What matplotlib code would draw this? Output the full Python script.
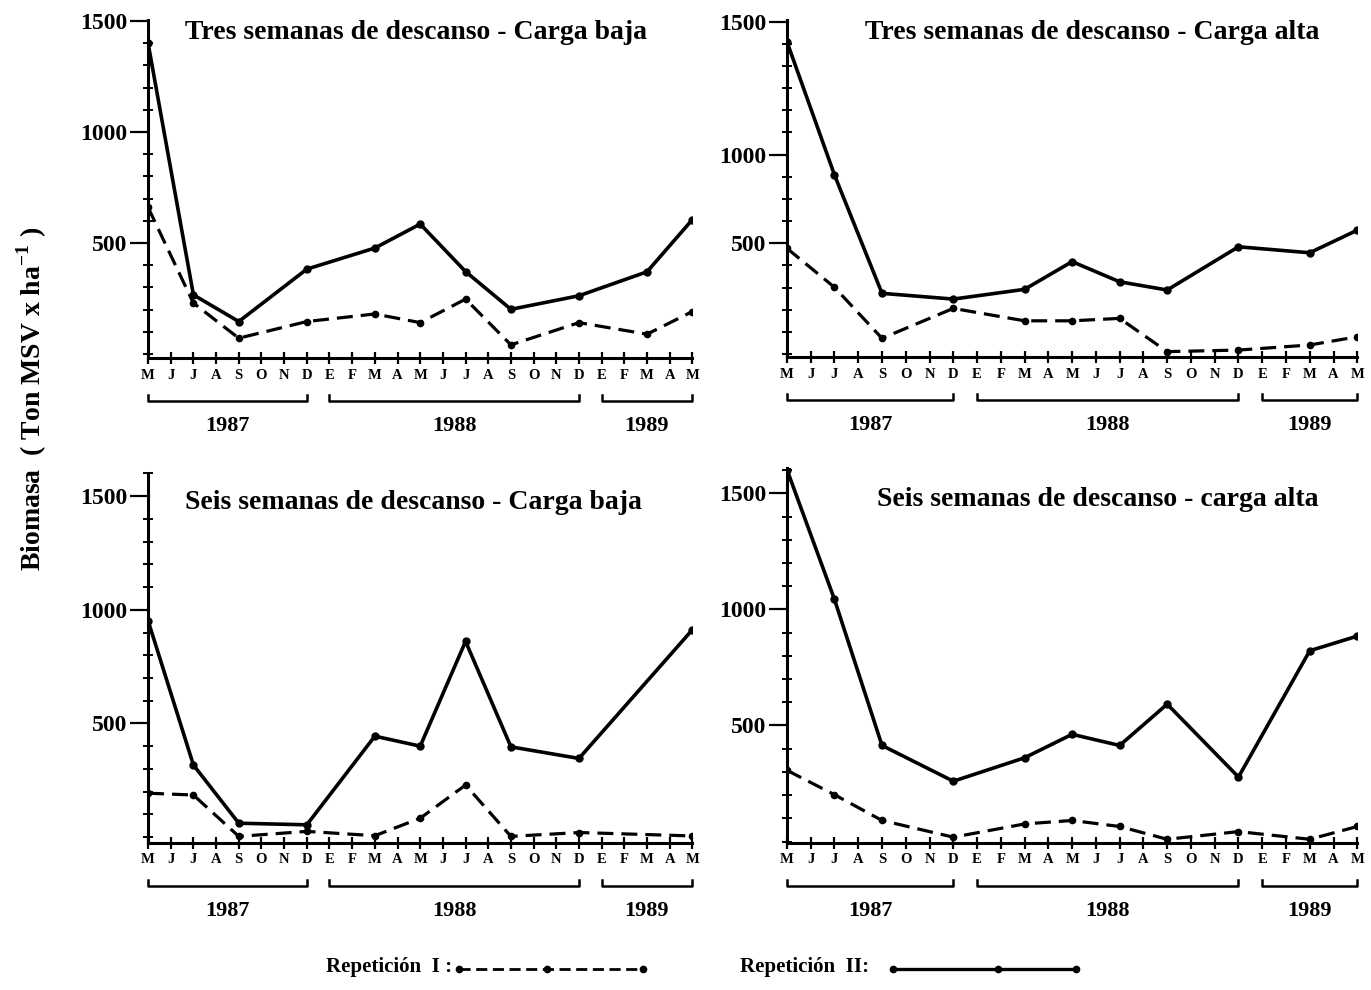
import matplotlib
matplotlib.use('Agg')
import matplotlib.pyplot as plt
from matplotlib.lines import Line2D
from matplotlib.ticker import MultipleLocator

plt.rcParams['font.family'] = ['Liberation Serif', 'DejaVu Serif']
plt.rcParams['font.weight'] = 'bold'
plt.rcParams['mathtext.fontset'] = 'custom'
plt.rcParams['mathtext.rm'] = 'Liberation Serif:bold'

months = ['M', 'J', 'J', 'A', 'S', 'O', 'N', 'D',
          'E', 'F', 'M', 'A', 'M', 'J', 'J', 'A', 'S', 'O', 'N', 'D',
          'E', 'F', 'M', 'A', 'M']
years = ['1987', '1988', '1989']
year_spans = [(0, 7), (8, 19), (20, 24)]

titles = ['Tres semanas de descanso - Carga baja',
          'Tres semanas de descanso - Carga alta',
          'Seis semanas de descanso - Carga baja',
          'Seis semanas de descanso - carga alta']

# month index of each sampling date
idx_full = [0, 2, 4, 7, 10, 12, 14, 16, 19, 22, 24]
idx_short = [0, 2, 4, 7, 10, 12, 14, 16, 19, 24]

# Tres semanas - carga baja
tb_rep1 = [660, 229, 71, 146, 180, 141, 247, 41, 141, 89, 191]
tb_rep2 = [1400, 266, 146, 382, 477, 585, 371, 201, 262, 370, 605]
# Tres semanas - carga alta
ta_rep1 = [477, 301, 71, 206, 150, 150, 161, 11, 18, 41, 78]
ta_rep2 = [1409, 808, 274, 248, 292, 417, 326, 289, 484, 457, 559]
# Seis semanas - carga baja
sb_rep1 = [193, 185, 3, 25, 6, 83, 229, 3, 20, 5]
sb_rep2 = [952, 317, 61, 54, 444, 400, 861, 397, 346, 912]
# Seis semanas - carga alta
sa_rep1 = [307, 202, 91, 19, 76, 91, 65, 10, 43, 10, 65]
sa_rep2 = [1602, 1043, 414, 260, 361, 462, 414, 592, 278, 822, 885]

panels = [
    (idx_full, tb_rep1, idx_full, tb_rep2),
    (idx_full, ta_rep1, idx_full, ta_rep2),
    (idx_short, sb_rep1, idx_short, sb_rep2),
    (idx_full, sa_rep1, idx_full, sa_rep2),
]
ylims = [(-20, 1505), (-15, 1508), (-26, 1603), (-6, 1610)]
ytick_pos = [[500, 1000, 1500], [500, 900, 1500], [500, 1000, 1500], [500, 1000, 1500]]
ytick_lab = ['500', '1000', '1500']

# axes rectangles (left, bottom, width, height) in figure fraction
rects = [(0.108, 0.638, 0.397, 0.342),
         (0.574, 0.639, 0.416, 0.341),
         (0.108, 0.1485, 0.397, 0.374),
         (0.574, 0.1485, 0.416, 0.379)]
title_pos = [(0.068, 0.962), (0.137, 0.962), (0.068, 0.92), (0.158, 0.915)]

fig = plt.figure(figsize=(13.71, 9.9), dpi=100)
H = fig.get_figheight() * fig.dpi

for k in range(4):
    ax = fig.add_axes(rects[k])
    x1, y1, x2, y2 = panels[k]
    ax.plot(x1, y1, color='black', lw=2.3, dashes=(5, 2.5),
            marker='o', ms=4.5)
    ax.plot(x2, y2, color='black', lw=2.6, marker='o', ms=5)

    ax.set_xlim(0, 24)
    ax.set_ylim(*ylims[k])
    for s in ['top', 'right']:
        ax.spines[s].set_visible(False)
    for s in ['left', 'bottom']:
        ax.spines[s].set_linewidth(2.2)

    ax.set_xticks(range(len(months)))
    ax.set_xticklabels(months, fontsize=10.5, fontweight='bold')
    ax.tick_params(axis='x', direction='inout', length=9, width=1.6, pad=3)

    ax.set_yticks(ytick_pos[k])
    ax.set_yticklabels(ytick_lab, fontsize=17, fontweight='bold')
    ax.yaxis.set_minor_locator(MultipleLocator(100))
    ax.tick_params(axis='y', which='major', direction='out', length=13, width=1.6, pad=2)
    ax.tick_params(axis='y', which='minor', direction='inout', length=7, width=1.4)

    ax.text(title_pos[k][0], title_pos[k][1], titles[k], transform=ax.transAxes,
            ha='left', va='center', fontsize=20, fontweight='bold')

    # year brackets under the month letters
    h = ax.get_position().height * H
    yb = -43 / h
    yl = -68 / h
    tk = 6 / h
    trans = ax.get_xaxis_transform()
    for (a, b), lab in zip(year_spans, years):
        ax.plot([a, a, b, b], [yb + tk, yb, yb, yb + tk], color='black', lw=1.8,
                transform=trans, clip_on=False)
        ax.text((a + b) / 2, yl, lab, transform=trans, ha='center', va='center',
                fontsize=16, fontweight='bold')

fig.text(0.023, 0.597, 'Biomasa  ( Ton MSV x ha$^{-1}$ )', rotation=90,
         ha='center', va='center', fontsize=20, fontweight='bold')

# legend at the bottom
fig.text(0.238, 0.023, 'Repetición  I :', ha='left', va='center',
         fontsize=15, fontweight='bold')
fig.add_artist(Line2D([0.335, 0.399, 0.469], [0.021, 0.021, 0.021], color='black',
                      lw=2.0, dashes=(4, 2), marker='o', ms=4.5,
                      transform=fig.transFigure))
fig.text(0.540, 0.023, 'Repetición  II:', ha='left', va='center',
         fontsize=15, fontweight='bold')
fig.add_artist(Line2D([0.651, 0.728, 0.785], [0.021, 0.021, 0.021], color='black',
                      lw=2.4, marker='o', ms=4.5, transform=fig.transFigure))

fig.savefig('out.png', dpi=100)
